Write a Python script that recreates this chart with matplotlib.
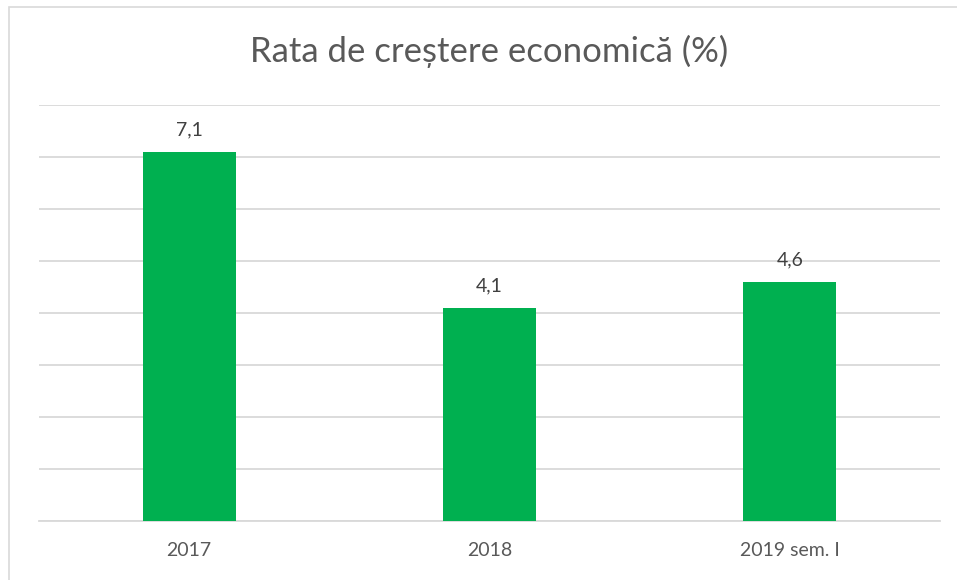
import matplotlib.pyplot as plt
from matplotlib.patches import Rectangle

# data
categories = ['2017', '2018', '2019 sem. I']
values = [7.1, 4.1, 4.6]
value_labels = ['7,1', '4,1', '4,6']

plt.rcParams['font.family'] = ['Lato', 'DejaVu Sans']

fig = plt.figure(figsize=(9.57, 5.8), dpi=100)
ax = fig.add_axes([39 / 957, 59 / 580, 901 / 957, 416 / 580])

# light frame around the chart (cropped at right and bottom)
fig.patches.append(Rectangle((9 / 957, -0.1), 1.2, (580 - 7) / 580 + 0.1,
                             transform=fig.transFigure, fill=False,
                             edgecolor='#D9D9D9', linewidth=1.2))

x = range(len(categories))
ax.bar(x, values, width=0.31, color='#00B050', zorder=3)

for xi, v, lab in zip(x, values, value_labels):
    ax.annotate(lab, (xi, v), xytext=(0, 10), textcoords='offset points',
                ha='center', va='bottom', fontsize=14, color='#404040')

ax.set_xlim(-0.5, 2.5)
ax.set_ylim(0, 8)
ax.set_yticks(range(0, 9))
ax.set_yticklabels([])
ax.grid(axis='y', color='#D9D9D9', linewidth=1.3, zorder=0)
ax.set_xticks(list(x))
ax.set_xticklabels(categories, fontsize=14, color='#595959')
ax.tick_params(axis='both', length=0)
ax.tick_params(axis='x', pad=15)
for s in ['top', 'right', 'left']:
    ax.spines[s].set_visible(False)
ax.spines['bottom'].set_color('#D9D9D9')
ax.spines['bottom'].set_linewidth(1.3)

fig.text(489 / 957, 1 - 51 / 580, 'Rata de creștere economică (%)',
         ha='center', va='center', fontsize=25, color='#595959')

fig.savefig('out.png', dpi=100)
